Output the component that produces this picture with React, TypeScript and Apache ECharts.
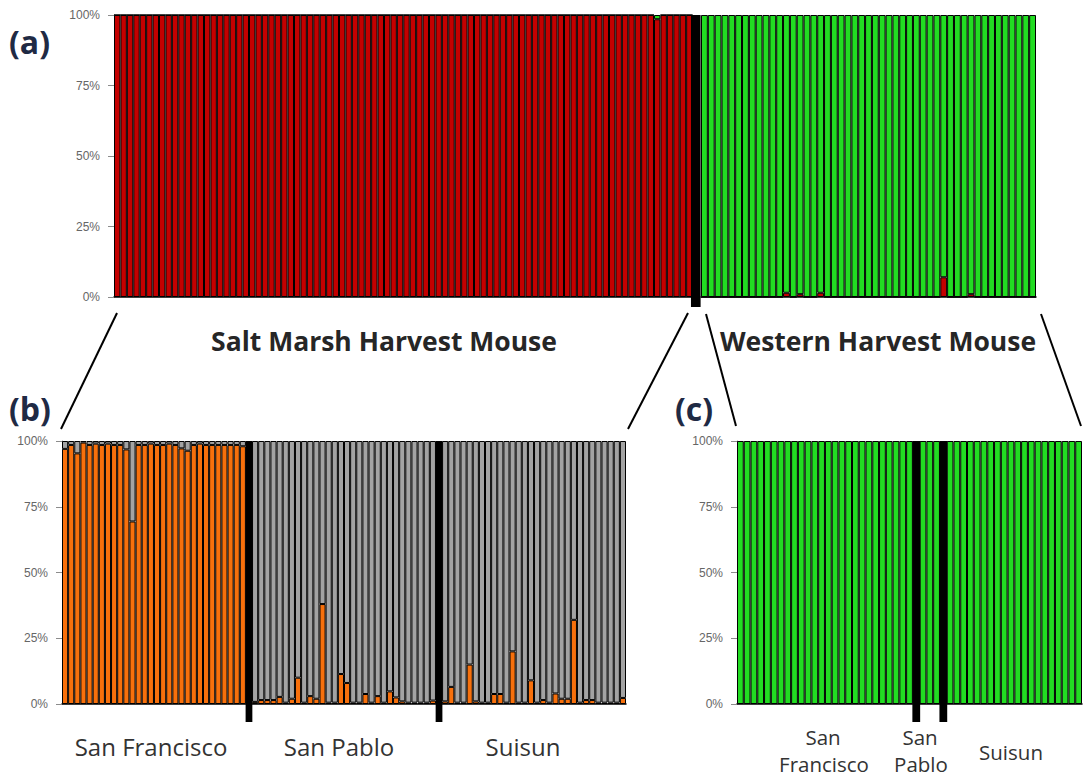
import React, { useEffect, useRef } from "react";
import * as echarts from "echarts";

// ---------- Data ----------
const pctTicks = [0, 25, 50, 75, 100];

// Panel (a): % membership in the red (SMHM) cluster for each individual
const smhmRedA = [
  100, 100, 100, 100, 100, 100, 100, 100, 100, 100,
  100, 100, 100, 100, 100, 100, 100, 100, 100, 100,
  100, 100, 100, 100, 100, 100, 100, 100, 100, 100,
  100, 100, 100, 100, 100, 100, 100, 100, 100, 100,
  100, 100, 100, 100, 100, 100, 100, 100, 100, 100,
  100, 100, 100, 100, 100, 100, 100, 100, 100, 100,
  100, 100, 100, 100, 100, 100, 100, 100, 100, 100,
  100, 100, 100, 100, 100, 100, 100, 100, 100, 100,
  100, 100, 100, 100, 98.5, 100, 100, 100, 100, 100,
];
const whmRedA = [
  0, 0, 0, 0, 0, 0, 0, 0, 0, 0,
  0, 0, 1.5, 0, 1, 0, 0, 1.5, 0, 0,
  0, 0, 0, 0, 0, 0, 0, 0, 0, 0,
  0, 0, 0, 0, 0, 7, 0, 0, 0, 1,
  0, 0, 0, 0, 0, 0, 0, 0, 0,
];

// Panel (b): % membership in the orange (San Francisco) cluster
const sfOrangeB = [
  97, 98.5, 95.3, 99.4, 98.5, 99, 98.5, 99, 98.5, 98.5,
  96.8, 69.4, 98.5, 98.5, 99, 98.5, 98.5, 99, 98.5, 97.2,
  96.3, 98.5, 99, 98.5, 98.5, 98.5, 98.5, 98.5, 98.5, 98,
];
const spOrangeB = [
  0.8, 1.5, 1.5, 1.5, 2.7, 0.5, 2, 10, 0.5, 3,
  2, 38, 0.5, 0.5, 11.4, 8, 0.5, 0.5, 3.8, 0.5,
  3, 0.5, 4.8, 2.5, 1, 0.5, 0.5, 0.5, 0.5, 1.3,
];
const suOrangeB = [
  1, 6.5, 0.5, 0.5, 15, 1, 0.5, 0.5, 3.8, 3.8,
  0.5, 20, 0.5, 0.5, 9, 0.5, 1.5, 0.5, 4, 2,
  2, 32, 0.5, 1.5, 1.5, 0.5, 0.5, 0.5, 0.5, 2.3,
];

// Panel (c): % membership in the green cluster (WHM)
const sfGreenC = [
  100, 100, 100, 100, 100, 100, 100, 100, 100, 100,
  100, 100, 100, 100, 100, 100, 100, 100, 100, 100,
  100, 100, 100, 100, 100, 100,
];
const spGreenC = [100, 100, 100];
const suGreenC = [
  100, 100, 100, 100, 100, 100, 100, 100, 100, 100,
  100, 100, 100, 100, 100, 100, 100, 100, 100, 100,
];

const speciesLabels = ["Salt Marsh Harvest Mouse", "Western Harvest Mouse"];
const siteLabels = ["San Francisco", "San Pablo", "Suisun"];

// ---------- Styling ----------
const RED = "#C40000";
const GREEN = "#22DC22";
const ORANGE = "#F7700C";
const GRAY = "#A3A3A3";
const SEP = "#000000";
const FONT = "Open Sans";

const SEPV = null as any;

function names(prefix: string, arr: any[]) {
  return arr.map((_, i) => prefix + (i + 1));
}

export default function App() {
  const ref = useRef<HTMLDivElement>(null);

  useEffect(() => {
    document.body.style.margin = "0";
    if (!ref.current) return;
    const chart = echarts.init(ref.current, null, { renderer: "svg" });

    const catA1 = [...names("SMHM-", smhmRedA), "sep-a"];
    const catA2 = names("WHM-", whmRedA);
    const catB = [
      ...names("SF-", sfOrangeB), "sep-b1",
      ...names("SP-", spOrangeB), "sep-b2",
      ...names("SU-", suOrangeB),
    ];
    const catC = [
      ...names("SFc-", sfGreenC), "sep-c1",
      ...names("SPc-", spGreenC), "sep-c2",
      ...names("SUc-", suGreenC),
    ];

    const a1Red = [...smhmRedA, SEPV];
    const a1Green = [...smhmRedA.map((v) => 100 - v), SEPV];
    const a2Red = [...whmRedA];
    const a2Green = whmRedA.map((v) => 100 - v);
    const bOrange = [...sfOrangeB, SEPV, ...spOrangeB, SEPV, ...suOrangeB];
    const bGray = bOrange.map((v) => (v == null ? null : 100 - v));
    const cGreen = [...sfGreenC, SEPV, ...spGreenC, SEPV, ...suGreenC];

    const sepIdxA = [smhmRedA.length];
    const sepIdxB = [sfOrangeB.length, sfOrangeB.length + 1 + spOrangeB.length];
    const sepIdxC = [sfGreenC.length, sfGreenC.length + 1 + spGreenC.length];

    const grids = [
      { left: 114, top: 15, width: 585, height: 282 },
      { left: 701, top: 15, width: 335, height: 282 },
      { left: 62, top: 441, width: 564, height: 263 },
      { left: 737, top: 441, width: 345, height: 263 },
    ];

    const xAxis = [catA1, catA2, catB, catC].map((data, i) => ({
      type: "category",
      gridIndex: i,
      data,
      axisLine: { show: true, lineStyle: { color: "#000", width: 1.5 } },
      axisTick: { show: false },
      axisLabel: { show: false },
      splitLine: { show: false },
    }));

    const yAxis = [0, 1, 2, 3].map((i) => ({
      type: "value",
      gridIndex: i,
      show: i !== 1,
      min: pctTicks[0],
      max: pctTicks[pctTicks.length - 1],
      interval: 25,
      axisLine: { show: true, lineStyle: { color: "#8c8c8c", width: 1 } },
      axisTick: { show: true, length: 6, lineStyle: { color: "#8c8c8c" } },
      splitLine: { show: false },
      axisLabel: {
        margin: 14,
        fontSize: 12,
        color: "#666666",
        fontFamily: "Liberation Sans",
        formatter: "{value}%",
      },
    }));

    const bar = (name: string, idx: number, stack: string, data: any[], color: string) => ({
      name,
      type: "bar",
      xAxisIndex: idx,
      yAxisIndex: idx,
      stack,
      data,
      barCategoryGap: "0%",
      barGap: "0%",
      itemStyle: { color, borderColor: "#000", borderWidth: 1 },
      emphasis: { disabled: true },
    });

    const sep = (idx: number, positions: number[], factor: number, ext: number) => ({
      type: "custom",
      xAxisIndex: idx,
      yAxisIndex: idx,
      clip: false,
      z: 5,
      data: positions.map((p) => [p, 100]),
      renderItem: (params: any, api: any) => {
        const top = api.coord([api.value(0), 100]);
        const bottom = api.coord([api.value(0), 0]);
        const w = api.size([1, 0])[0] * factor;
        return {
          type: "rect",
          shape: { x: top[0] - w / 2, y: top[1], width: w, height: bottom[1] - top[1] + ext },
          style: { fill: SEP },
        };
      },
    });

    const txt = (text: string, x: number, y: number, size: number, bold: boolean, color = "#262626", align = "center") => ({
      type: "text",
      x,
      y,
      style: {
        text,
        fontSize: size,
        fontWeight: bold ? "bold" : "normal",
        fontFamily: FONT,
        fill: color,
        align,
        verticalAlign: "middle",
      },
    });

    const ln = (x1: number, y1: number, x2: number, y2: number) => ({
      type: "line",
      shape: { x1, y1, x2, y2 },
      style: { stroke: "#000", lineWidth: 2 },
    });

    const option: any = {
      animation: false,
      backgroundColor: "#ffffff",
      grid: grids,
      xAxis,
      yAxis,
      series: [
        bar("SMHM red", 0, "a1", a1Red, RED),
        bar("SMHM green", 0, "a1", a1Green, GREEN),
        sep(0, sepIdxA, 1.5, 10),
        bar("WHM red", 1, "a2", a2Red, RED),
        bar("WHM green", 1, "a2", a2Green, GREEN),
        bar("Orange cluster", 2, "b", bOrange, ORANGE),
        bar("Gray cluster", 2, "b", bGray, GRAY),
        sep(2, sepIdxB, 1.1, 18),
        bar("Green cluster", 3, "c", cGreen, GREEN),
        sep(3, sepIdxC, 1.15, 18),
      ],
      graphic: [
        txt("(a)", 9, 41, 32, true, "#1f2a44", "left"),
        txt("(b)", 9, 408, 32, true, "#1f2a44", "left"),
        txt("(c)", 675, 408, 32, true, "#1f2a44", "left"),
        txt(speciesLabels[0], 384, 341, 26.5, true),
        txt(speciesLabels[1], 878, 341, 26.5, true),
        txt(siteLabels[0], 151, 746, 24, false, "#333"),
        txt(siteLabels[1], 339, 746, 24, false, "#333"),
        txt(siteLabels[2], 523, 746, 24, false, "#333"),
        txt("San", 823, 737, 20.5, false, "#333"),
        txt("Francisco", 824, 764, 20.5, false, "#333"),
        txt("San", 920, 737, 20.5, false, "#333"),
        txt("Pablo", 921, 764, 20.5, false, "#333"),
        txt(siteLabels[2], 1011, 752, 20.5, false, "#333"),
        ln(117, 313, 61, 429),
        ln(688, 313, 628, 429),
        ln(706, 314, 736, 426),
        ln(1041, 314, 1081, 426),
      ],
    };

    chart.setOption(option);
    return () => chart.dispose();
  }, []);

  return <div ref={ref} style={{ width: 1084, height: 778 }} />;
}
